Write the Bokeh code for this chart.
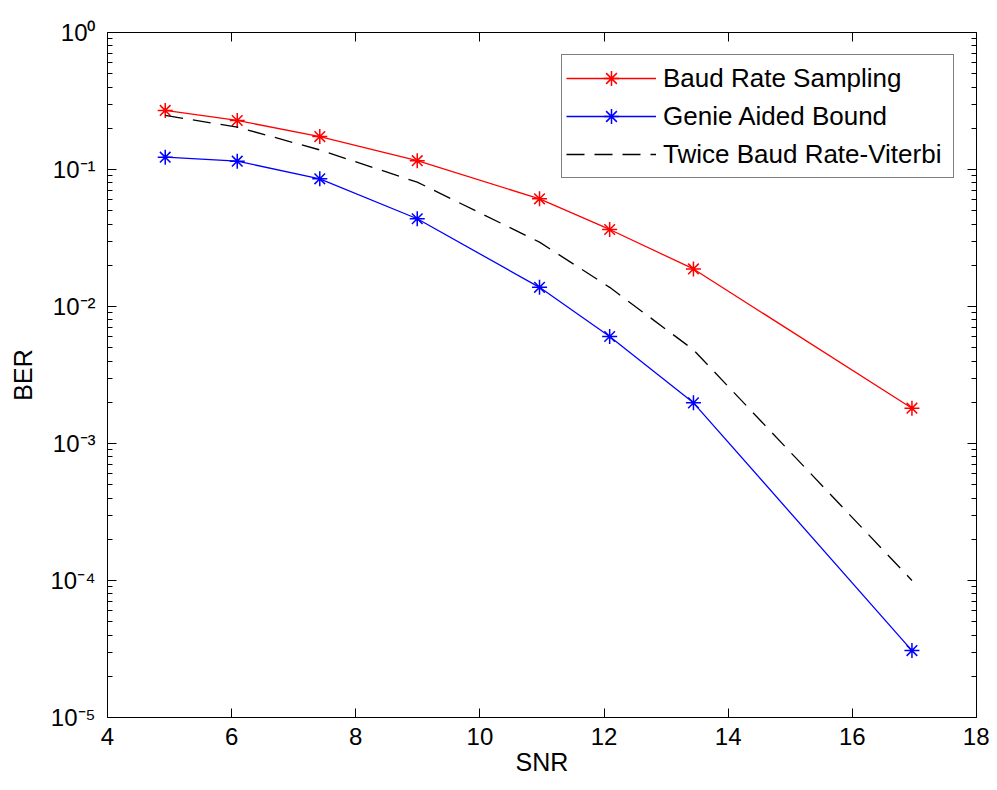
from bokeh.plotting import figure
from bokeh.models import LinearAxis, LogAxis, FixedTicker, Legend, LegendItem
from bokeh.embed import file_html
from bokeh.resources import INLINE

# ---- data ----
snr = [4.93, 6.09, 7.42, 8.99, 10.96, 12.09, 13.44, 16.96]
ber_baud = [0.270, 0.228, 0.174, 0.116, 0.0611, 0.0365, 0.0188, 0.00181]
ber_genie = [0.123, 0.115, 0.0855, 0.0437, 0.0138, 0.00604, 0.00198, 3.08e-5]
ber_twice = [0.248, 0.204, 0.139, 0.0808, 0.0295, 0.0138, 0.00483, 1.0e-4]

x_ticks = [4, 6, 8, 10, 12, 14, 16, 18]
y_ticks = [1e-5, 1e-4, 1e-3, 1e-2, 1e-1, 1.0]
y_tick_labels = ["10\u207b\u2075", "10\u207b\u2074", "10\u207b\u00b3", "10\u207b\u00b2", "10\u207b\u00b9", "10\u2070"]
y_minor = [k * d for d in [1e-5, 1e-4, 1e-3, 1e-2, 1e-1] for k in range(2, 10)]

series_labels = ["Baud Rate Sampling", "Genie Aided Bound", "Twice Baud Rate-Viterbi"]

FONT = "Liberation Sans"
FS = "24px"

p = figure(width=989, height=782, x_range=(4, 18), y_range=(1e-5, 1),
           y_axis_type="log", output_backend="svg", toolbar_location=None,
           min_border_left=107, min_border_right=13, min_border_top=32,
           min_border_bottom=65, background_fill_color="white",
           border_fill_color="white")
p.outline_line_color = None
p.xgrid.visible = False
p.ygrid.visible = False

xt = FixedTicker(ticks=x_ticks, minor_ticks=[])
yt = FixedTicker(ticks=y_ticks, minor_ticks=y_minor)

overrides = {v: s for v, s in zip(y_ticks, y_tick_labels)}

def style(ax):
    ax.axis_line_color = "black"
    ax.axis_line_width = 1
    ax.major_tick_line_color = "black"
    ax.minor_tick_line_color = "black"
    ax.major_tick_in = 9
    ax.major_tick_out = 0
    ax.minor_tick_in = 5
    ax.minor_tick_out = 0
    ax.major_label_text_font = FONT
    ax.major_label_text_font_size = FS
    ax.major_label_text_color = "black"
    ax.axis_label_text_font = FONT
    ax.axis_label_text_font_size = "25px"
    ax.axis_label_text_font_style = "normal"
    ax.axis_label_text_color = "black"

xa = p.xaxis[0]
xa.ticker = xt
xa.axis_label = "SNR"
style(xa)
xa.major_label_standoff = 10
xa.axis_label_standoff = 0

ya = p.yaxis[0]
ya.ticker = yt
ya.axis_label = "BER"
style(ya)
ya.major_label_overrides = overrides
ya.major_label_standoff = 12
ya.axis_label_standoff = 10

top = LinearAxis(ticker=xt)
style(top)
top.major_label_overrides = {v: "" for v in x_ticks}
top.major_label_standoff = 0
p.add_layout(top, "above")

right = LogAxis(ticker=yt)
style(right)
right.major_label_overrides = {v: "" for v in y_ticks}
right.major_label_standoff = 0
p.add_layout(right, "right")

l1 = p.line(snr, ber_baud, line_color="#ff0000", line_width=1.3)
s1 = p.scatter(snr, ber_baud, marker="asterisk", size=15, line_color="#ff0000", line_width=1.5)
l2 = p.line(snr, ber_genie, line_color="#0000ff", line_width=1.3)
s2 = p.scatter(snr, ber_genie, marker="asterisk", size=15, line_color="#0000ff", line_width=1.5)
l3 = p.line(snr, ber_twice, line_color="black", line_width=1.3, line_dash="18 10")

legend = Legend(items=[
    LegendItem(label=series_labels[0], renderers=[l1, s1]),
    LegendItem(label=series_labels[1], renderers=[l2, s2]),
    LegendItem(label=series_labels[2], renderers=[l3]),
], location="top_right", margin=22, padding=4, spacing=0,
    glyph_width=90, glyph_height=38, label_height=38, label_width=286,
    label_standoff=7, label_text_font=FONT, label_text_font_size="26px",
    label_text_color="black", border_line_color="black", border_line_width=1.2,
    background_fill_color="white", background_fill_alpha=1.0)
p.add_layout(legend)

open("out.html", "w").write(file_html(p, INLINE))
